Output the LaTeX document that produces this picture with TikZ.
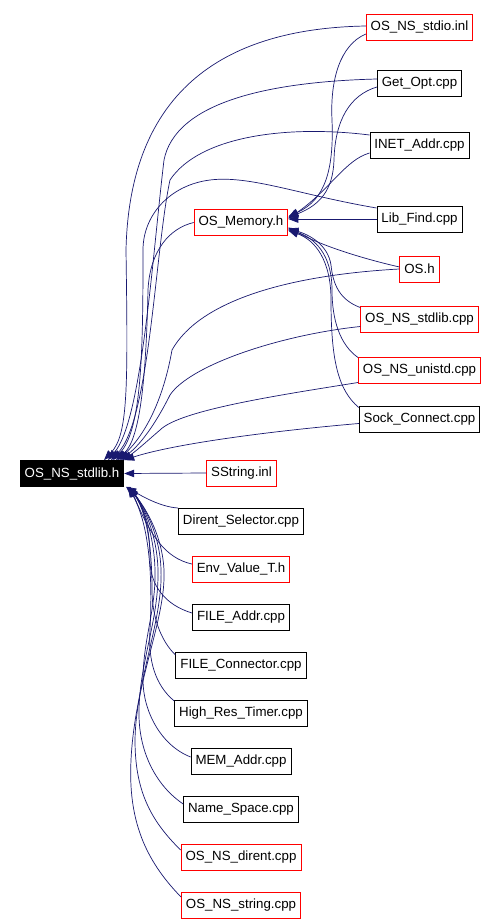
\documentclass[tikz,border=0pt]{standalone}
\usepackage{fontspec}
\setmainfont{Liberation Sans}
\usetikzlibrary{arrows.meta}
\definecolor{navyline}{RGB}{25,25,112}

\begin{document}
\begin{tikzpicture}[x=1pt,y=-1pt,
  box/.style={draw=#1,line width=0.8pt,fill=white,inner xsep=4.5pt,inner ysep=0pt,
    minimum height=26pt,font=\fontsize{13.3}{15}\selectfont},
  box/.default=black,
  edge/.style={draw=navyline,line width=0.7pt,-{Triangle[length=10pt,width=7.5pt]}}]
\useasboundingbox[fill=white] (0,0) rectangle (499,923);
\node[box,fill=black,text=white] (stdlib) at (72,473.5) {OS\_NS\_stdlib.h};
\node[box=red] (memory) at (241,222.5) {OS\_Memory.h};
\node[box=red] (sstring) at (241.5,473) {SString.inl};
\foreach \nm/\lab/\col/\y in {stdio/OS\_NS\_stdio.inl/red/27, getopt/Get\_Opt.cpp/black/83,
    inet/INET\_Addr.cpp/black/145, libfind/Lib\_Find.cpp/black/219, osh/OS.h/red/269,
    nsstdlib/OS\_NS\_stdlib.cpp/red/319.5, unistd/OS\_NS\_unistd.cpp/red/370.5,
    sock/Sock\_Connect.cpp/black/419.5}
  \node[box=\col] (\nm) at (419.5,\y) {\lab};
\foreach \nm/\lab/\col [count=\i from 0] in {dirent/Dirent\_Selector.cpp/black,
    env/Env\_Value\_T.h/red, fileaddr/FILE\_Addr.cpp/black, fileconn/FILE\_Connector.cpp/black,
    hrt/High\_Res\_Timer.cpp/black, memaddr/MEM\_Addr.cpp/black, namespace/Name\_Space.cpp/black,
    nsdirent/OS\_NS\_dirent.cpp/red, nsstring/OS\_NS\_string.cpp/red}
  \node[box=\col] (\nm) at (241,521+48*\i) {\lab};
\begin{scope}[on background layer/.try]
\draw[edge] ([yshift=1pt]stdio.west) .. controls (250,28) and (130,70) .. (126,250)
  .. controls (128,390) and (128,435) .. ([xshift=32pt]stdlib.north);
\draw[edge] ([yshift=4pt]getopt.west) .. controls (260,82) and (175,105) .. (164,160)
  .. controls (152,260) and (142,420) .. ([xshift=36pt]stdlib.north);
\draw[edge] ([yshift=10pt]inet.west) .. controls (290,125) and (200,135) .. (170,180)
  .. controls (155,250) and (150,420) .. ([xshift=39pt]stdlib.north);
\draw[edge] ([yshift=11pt]libfind.west) .. controls (300,195) and (250,175) .. (210,180)
  .. controls (170,185) and (143,215) .. (143,250)
  .. controls (143,350) and (142,430) .. ([xshift=41pt]stdlib.north);
\draw[edge] (memory.west) .. controls (170,228) and (150,250) .. (148,290)
  .. controls (146,380) and (140,440) .. ([xshift=44pt]stdlib.north);
\draw[edge] (osh.west) .. controls (290,275) and (200,300) .. (172,350)
  .. controls (165,390) and (150,430) .. ([xshift=46pt]stdlib.north);
\draw[edge] ([yshift=-7pt]nsstdlib.west) .. controls (280,335) and (190,365) .. (170,395)
  .. controls (155,425) and (140,445) .. ([xshift=48pt]stdlib.north);
\draw[edge] ([yshift=-12pt]unistd.west) .. controls (280,395) and (180,410) .. (160,430)
  .. controls (145,443) and (135,452) .. ([xshift=50pt]stdlib.north);
\draw[edge] ([yshift=-4pt]sock.west) .. controls (260,432) and (170,445) .. (stdlib.north east);
\draw[edge] (sstring.west) -- (stdlib.east);
\draw[edge] ([yshift=13pt]dirent.west) .. controls (160,507) and (140,495) .. ([xshift=2pt]stdlib.south east);
\draw[edge] ([yshift=5pt]env.west) .. controls (165,558) and (150,535) .. ([xshift=6pt]stdlib.south east);
\draw[edge] ([yshift=4pt]fileaddr.west) .. controls (165,605) and (150,585) .. (150,560)
  .. controls (150,530) and (145,510) .. ([xshift=5pt]stdlib.south east);
\draw[edge] ([yshift=10pt]fileconn.west) .. controls (160,640) and (152,615) .. (152,590)
  .. controls (152,540) and (145,510) .. ([xshift=5pt]stdlib.south east);
\draw[edge] ([yshift=12pt]hrt.west) .. controls (155,685) and (148,660) .. (150,630)
  .. controls (152,590) and (152,530) .. ([xshift=4pt]stdlib.south east);
\draw[edge] ([yshift=4pt]memaddr.west) .. controls (160,745) and (143,710) .. (143,680)
  .. controls (143,640) and (156,610) .. (155,570)
  .. controls (154,530) and (140,500) .. ([xshift=4pt]stdlib.south east);
\draw[edge] ([yshift=5pt]namespace.west) .. controls (155,785) and (138,750) .. (139,710)
  .. controls (140,660) and (159,620) .. (158,570)
  .. controls (157,530) and (140,500) .. ([xshift=3pt]stdlib.south east);
\draw[edge] ([yshift=7pt]nsdirent.west) .. controls (150,820) and (135,790) .. (135,740)
  .. controls (136,680) and (163,620) .. (161,570)
  .. controls (160,530) and (140,500) .. ([xshift=3pt]stdlib.south east);
\draw[edge] ([yshift=8pt]nsstring.west) .. controls (145,860) and (128,820) .. (131,760)
  .. controls (135,680) and (166,620) .. (164,570)
  .. controls (162,530) and (140,500) .. ([xshift=2pt]stdlib.south east);
\draw[edge] ([yshift=-7pt]stdio.west) .. controls (340,45) and (330,80) .. (332,120)
  .. controls (334,170) and (325,200) .. ([yshift=6pt]memory.east);
\draw[edge] ([yshift=-4pt]getopt.west) .. controls (350,95) and (335,120) .. (334,160)
  .. controls (333,190) and (320,205) .. ([yshift=5pt]memory.east);
\draw[edge] ([yshift=-8pt]inet.west) .. controls (345,160) and (330,190) .. ([yshift=4pt]memory.east);
\draw[edge] (libfind.west) -- (libfind.west -| memory.east);
\draw[edge] ([yshift=2pt]osh.west) .. controls (360,258) and (320,245) .. ([yshift=-5pt]memory.east);
\draw[edge] ([yshift=12pt]nsstdlib.west) .. controls (340,300) and (333,285) .. (331,265)
  .. controls (328,245) and (310,235) .. ([yshift=-6pt]memory.east);
\draw[edge] ([yshift=13pt]unistd.west) .. controls (340,345) and (332,320) .. (332,290)
  .. controls (332,255) and (315,238) .. ([yshift=-7pt]memory.east);
\draw[edge] ([yshift=12pt]sock.west) .. controls (338,390) and (331,360) .. (331,300)
  .. controls (331,260) and (315,240) .. ([yshift=-8pt]memory.east);
\end{scope}
\end{tikzpicture}
\end{document}
